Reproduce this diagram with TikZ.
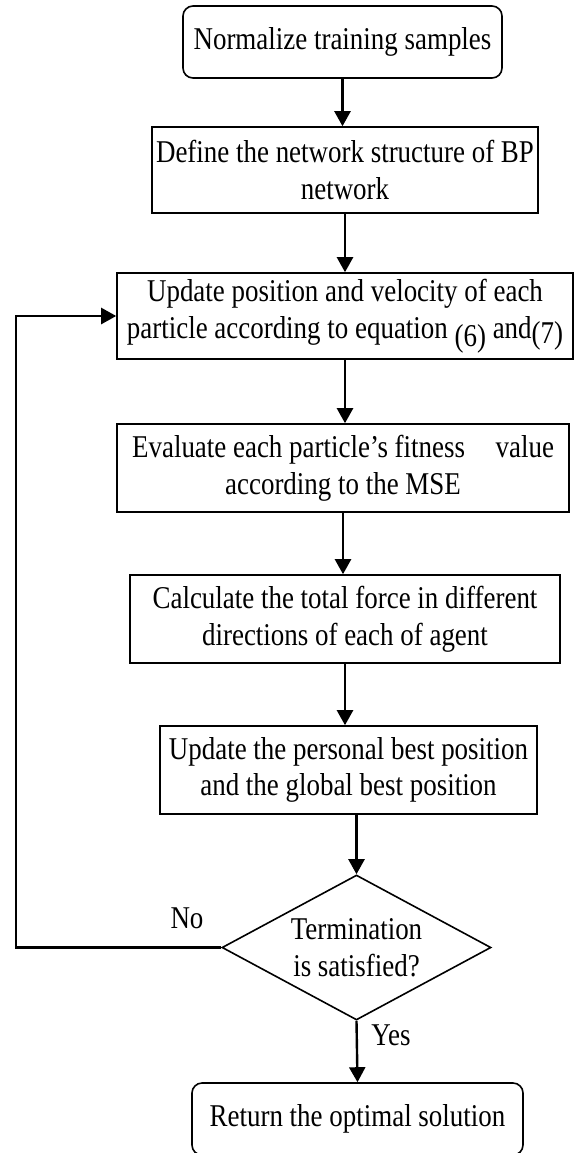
\documentclass[tikz,border=0pt]{standalone}
\usepackage{fontspec}
\setmainfont[FakeStretch=0.85]{Liberation Serif}
\usetikzlibrary{shapes.geometric,arrows.meta}

\begin{document}
\begin{tikzpicture}[x=0.5pt,y=-0.5pt,font=\fontsize{15.85}{18.35}\selectfont,
	box/.style={draw,line width=0.8pt,align=center,inner sep=0pt},
	rbox/.style={box,rounded corners=5pt},
	arr/.style={-{Triangle[length=7.5pt,width=8pt]},line width=1.2pt}]
			\useasboundingbox (0,0) rectangle (574,1153);
			% Các khối
			\node[rbox,minimum width=159.5pt,minimum height=36pt] (norm) at (342.5,42) {Normalize training samples};
			\node[box,minimum width=193pt,minimum height=43pt] (define) at (345,170) {Define the network structure of BP\\network};
			\node[box,minimum width=228pt,minimum height=43pt] (update) at (345,316) {Update position and velocity of each\\particle according to equation \raisebox{-4pt}{(6)} and\raisebox{-2.5pt}{(7)}};
			\node[box,minimum width=226pt,minimum height=44pt] (eval) at (343,468) {Evaluate each particle’s fitness\hspace{0.75em} value\\according to the MSE};
			\node[box,minimum width=215pt,minimum height=44pt] (calc) at (345,619) {Calculate the total force in different\\directions of each of agent};
			\node[box,minimum width=188.5pt,minimum height=44pt] (best) at (348.5,770) {Update the personal best position\\and the global best position};
			\node[box,diamond,minimum width=134.5pt,minimum height=72.5pt,aspect=1.85] (term) at (356.5,947.5) {Termination\\is satisfied?};
			\node[rbox,minimum width=165.5pt,minimum height=36pt] (ret) at (357.5,1119) {Return the optimal solution};
			% Mũi tên
			\foreach \a/\b in {norm/define,define/update,update/eval,eval/calc,calc/best}
			\draw[arr] (\a.south) -- (\a.south |- \b.north);
			\draw[arr] (term.north |- best.south) -- (term.north);
			\draw[arr] (term.south) -- (ret.north);
			\coordinate (loop) at (16,947.5);
			\draw[arr] (term.west) -- (loop) |- (update.west);
			% Nhãn
			\node (no) at (187,918) {No};
			\node (yes) at (391,1035) {Yes};
\end{tikzpicture}
\end{document}
